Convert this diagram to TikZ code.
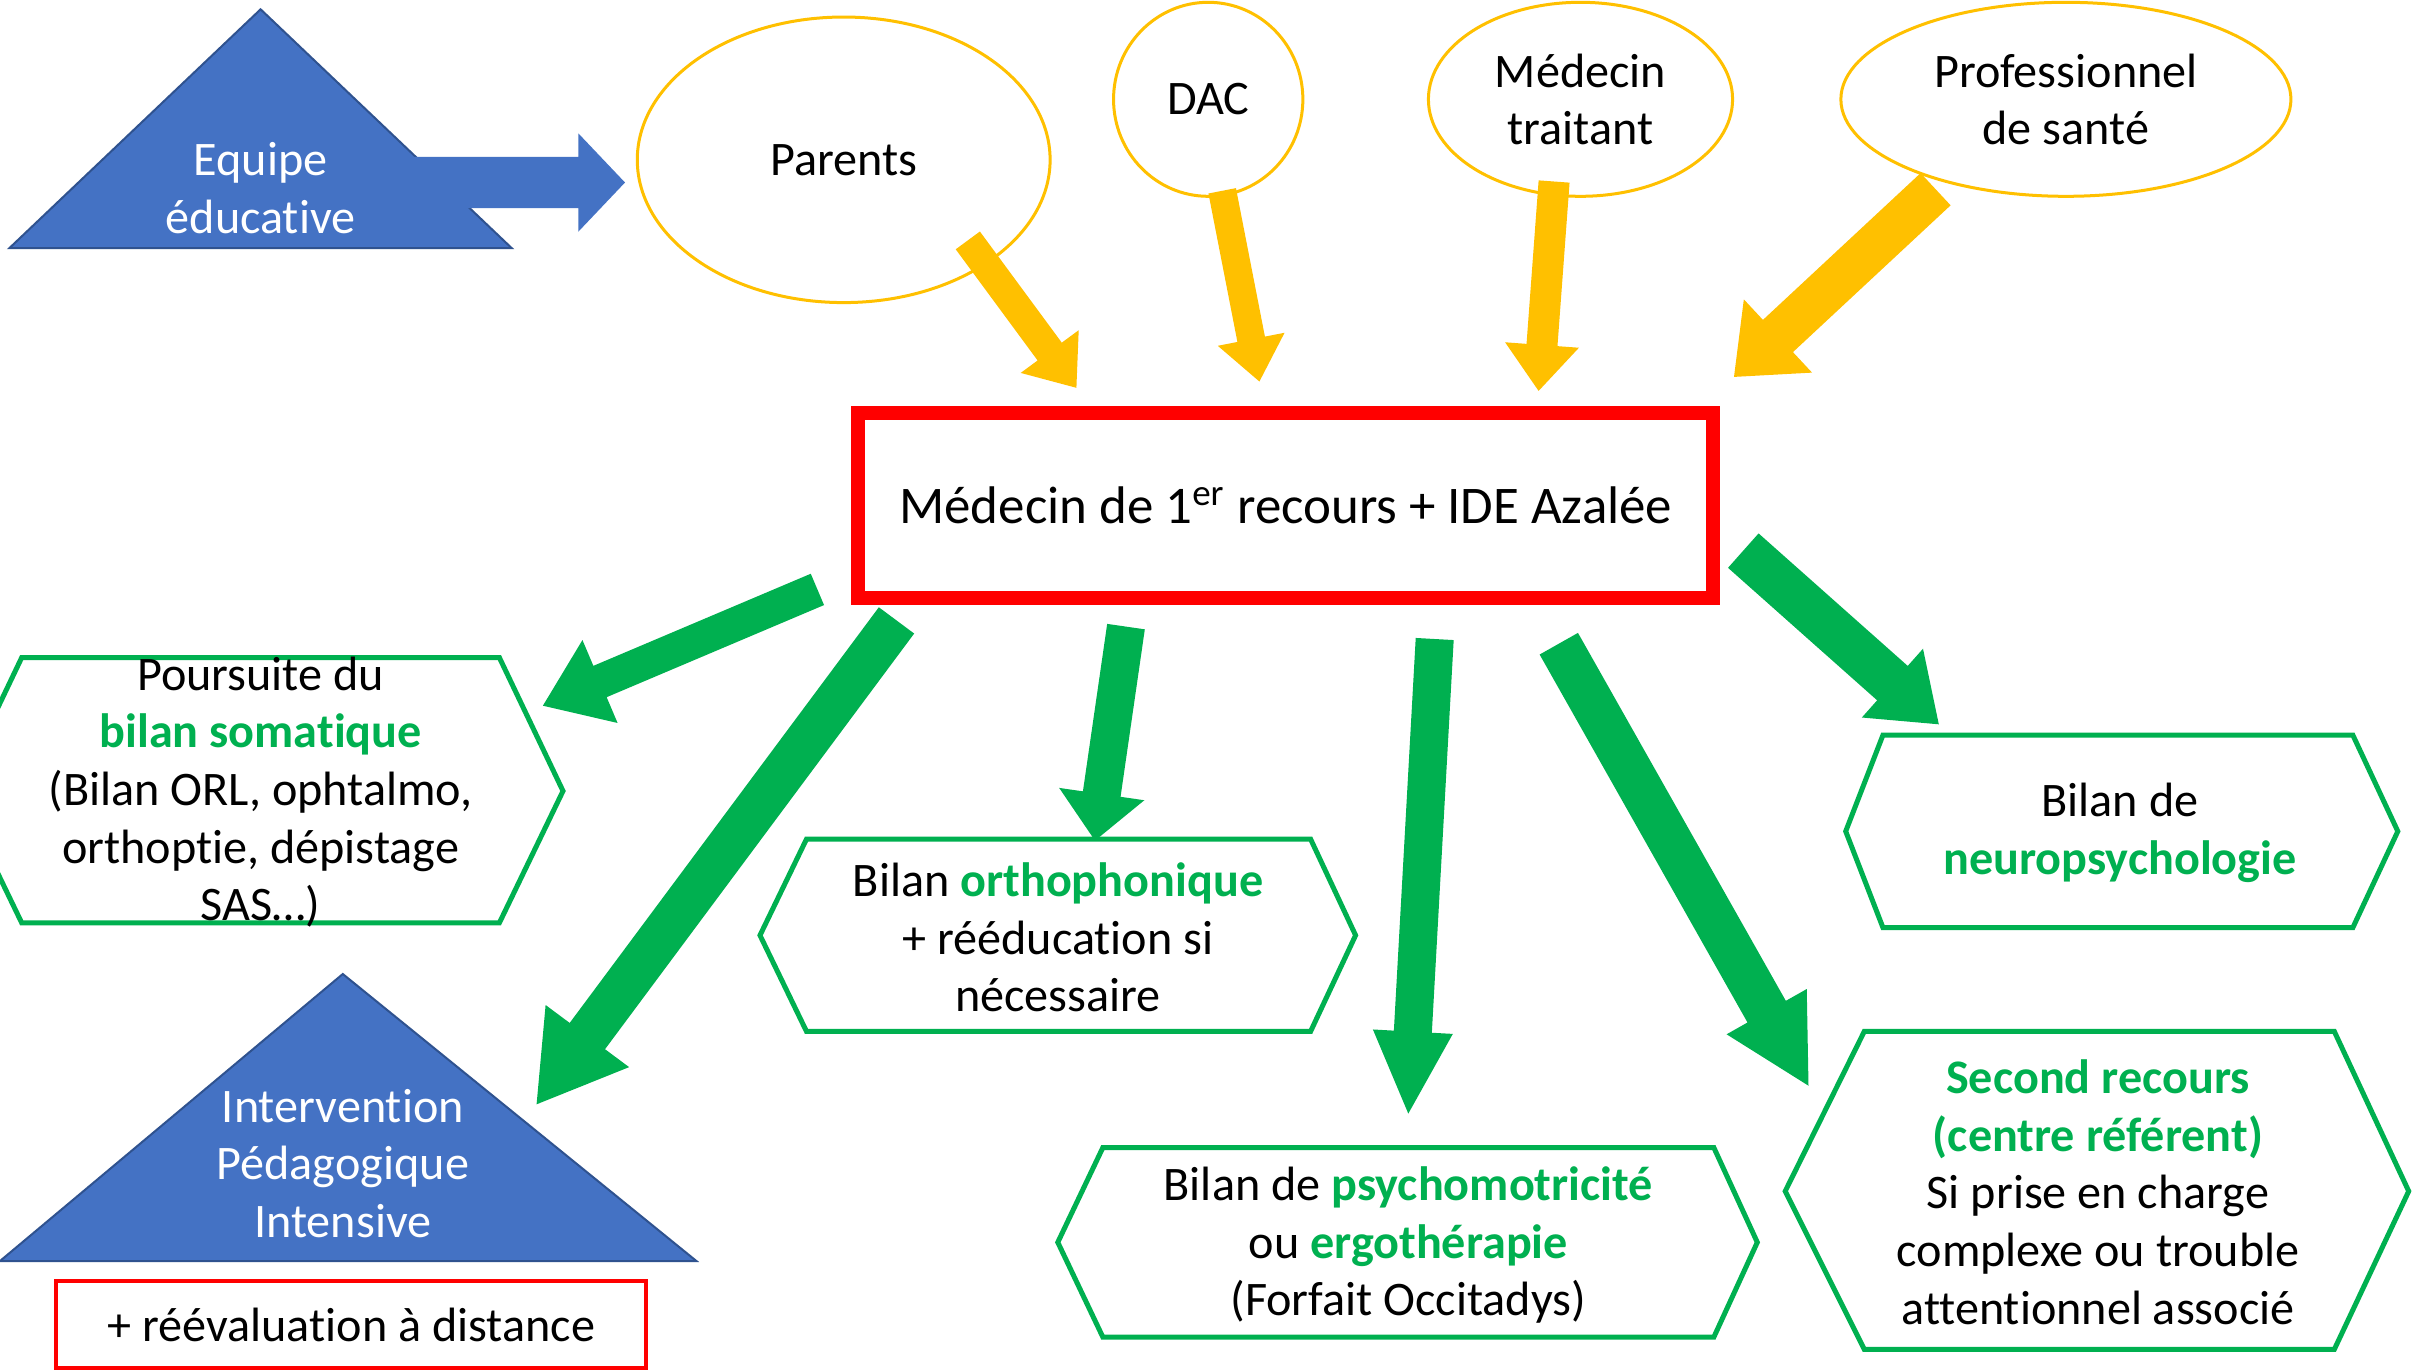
\documentclass[tikz,border=0pt]{standalone}
\usepackage{fontspec}
\setmainfont{Carlito}[Ligatures=NoCommon]
\usetikzlibrary{calc,shapes.geometric}
\definecolor{bluefill}{HTML}{4472C4}
\definecolor{blueline}{HTML}{2F528F}
\definecolor{yel}{HTML}{FFC000}
\definecolor{grn}{HTML}{00B050}
\definecolor{rd}{HTML}{FF0000}
\newcommand{\grb}[1]{\textbf{\textcolor{grn}{#1}}}
% #1 colour, #2 start, #3 tip, #4 shaft half width, #5 head half width, #6 head length
\newcommand{\blockarrow}[6]{%
  \path ($(#3)!#6!(#2)$) coordinate (hb);
  \fill[#1] ($(#2)!#4!90:(#3)$) -- ($(hb)!#4!90:(#3)$) -- ($(hb)!#5!90:(#3)$) -- (#3)
    -- ($(hb)!#5!-90:(#3)$) -- ($(hb)!#4!-90:(#3)$) -- ($(#2)!#4!-90:(#3)$) -- cycle;
}
\begin{document}
\begin{tikzpicture}[x=0.01cm,y=-0.01cm,
  lbl/.style={font=\fontsize{13.7}{16.4}\selectfont, align=center, inner sep=0pt},
  wlbl/.style={lbl, text=white},
  ell/.style={ellipse, draw=yel, line width=0.03cm, fill=white, inner sep=0pt, lbl},
  hexa/.style={draw=grn, line width=0.05cm, fill=white},
  tri/.style={fill=bluefill, draw=blueline, line width=0.02cm}]
\useasboundingbox (0,0) rectangle (2432,1372);
\fill[white] (0,0) rectangle (2432,1372);
\clip (0,0) rectangle (2432,1372);

% Equipe educative
\draw[tri] (260.6,9.3) -- (511.8,248.2) -- (9.3,248.2) -- cycle;
\coordinate (eqs) at (400,182.5);
\coordinate (eqt) at (625,182.5);
\blockarrow{bluefill}{eqs}{eqt}{0.255cm}{0.49cm}{0.465cm}
\node[wlbl] (equipe) at (260.6,188.4) {Equipe\\éducative};

% ellipses
\node[ell, minimum width=4.126cm, minimum height=2.854cm] (parents) at (843.7,159.8) {Parents};
\node[ell, minimum width=1.892cm, minimum height=1.939cm] (dac) at (1208.2,99.3) {DAC};
\node[ell, minimum width=3.04cm, minimum height=1.939cm] (mt) at (1580.5,99.3) {Médecin\\traitant};
\node[ell, minimum width=4.498cm, minimum height=1.939cm] (prof) at (2065.9,99.3) {Professionnel\\de santé};

% main box
\node[draw=rd, line width=0.14cm, minimum width=8.545cm, minimum height=1.845cm, inner sep=0pt,
  font=\fontsize{15.05}{18}\selectfont] (main) at (1285.75,505.65) {Médecin de 1\textsuperscript{er} recours + IDE Azalée};

% yellow arrows
\coordinate (ys1) at (967.8,240.4);  \coordinate (ye1) at (1076.4,387.8);
\coordinate (ys2) at (1222.2,190.8); \coordinate (ye2) at (1259.4,381.5);
\coordinate (ys3) at (1554.1,181.5); \coordinate (ye3) at (1538.6,390.9);
\coordinate (ys4) at (1935.6,189.2); \coordinate (ye4) at (1734,376.9);
\blockarrow{yel}{ys1}{ye1}{0.15cm}{0.36cm}{0.45cm}
\blockarrow{yel}{ys2}{ye2}{0.14cm}{0.34cm}{0.43cm}
\blockarrow{yel}{ys3}{ye3}{0.155cm}{0.37cm}{0.46cm}
\blockarrow{yel}{ys4}{ye4}{0.22cm}{0.50cm}{0.60cm}

% hexagons
\draw[hexa] (21.7,657.6) -- (499.4,657.6) -- (563,791) -- (499.4,922.8) -- (21.7,922.8) -- (-41.9,791) -- cycle;
\node[lbl] (poursuite) at (260.6,792) {Poursuite du\\\grb{bilan somatique}\\(Bilan ORL, ophtalmo,\\orthoptie, dépistage\\SAS…)};

\draw[hexa] (806.5,839.1) -- (1310.6,839.1) -- (1355.6,935.3) -- (1310.6,1031.4) -- (806.5,1031.4) -- (760,935.3) -- cycle;
\node[lbl] (ortho) at (1058,937.5) {Bilan \grb{orthophonique}\\+ rééducation si\\nécessaire};

\draw[hexa] (1102.8,1147.7) -- (1713.9,1147.7) -- (1757.3,1242.3) -- (1713.9,1337) -- (1102.8,1337) -- (1057.8,1242.3) -- cycle;
\node[lbl] (psycho) at (1408.3,1245) {Bilan de \grb{psychomotricité}\\ou \grb{ergothérapie}\\(Forfait Occitadys)};

\draw[hexa] (1882.9,735.2) -- (2352.9,735.2) -- (2397.8,831.3) -- (2352.9,927.5) -- (1882.9,927.5) -- (1845.7,831.3) -- cycle;
\node[lbl] (neuro) at (2120,833) {Bilan de\\\grb{neuropsychologie}};

\draw[hexa] (1864.3,1031.4) -- (2334.3,1031.4) -- (2408.7,1191.2) -- (2334.3,1349.4) -- (1864.3,1349.4) -- (1785.2,1191.2) -- cycle;
\node[lbl] (second) at (2098,1192) {\grb{Second recours}\\\grb{(centre référent)}\\Si prise en charge\\complexe ou trouble\\attentionnel associé};

% IPI triangle
\draw[tri] (342.8,974) -- (696.4,1261) -- (0,1261) -- cycle;
\node[wlbl] (ipi) at (342.8,1163.3) {Intervention\\Pédagogique\\Intensive};
\node[draw=rd, line width=0.04cm, minimum width=5.9cm, minimum height=0.86cm, inner sep=0pt, lbl] (reeval) at (351.3,1324.5) {+ réévaluation à distance};

% green arrows
\coordinate (gs1) at (817.4,589.4);  \coordinate (ge1) at (542.9,705.7);
\coordinate (gs2) at (896.5,620.4);  \coordinate (ge2) at (536.6,1104.3);
\coordinate (gs3) at (1126,626.6);   \coordinate (ge3) at (1095,840.6);
\coordinate (gs4) at (1434.7,639);   \coordinate (ge4) at (1408.3,1113.6);
\coordinate (gs5) at (1558.8,643.7); \coordinate (ge5) at (1808.5,1085.7);
\coordinate (gs6) at (1743.3,550.6); \coordinate (ge6) at (1938.8,724.3);
\blockarrow{grn}{gs1}{ge1}{0.17cm}{0.45cm}{0.62cm}
\blockarrow{grn}{gs2}{ge2}{0.22cm}{0.52cm}{0.85cm}
\blockarrow{grn}{gs3}{ge3}{0.19cm}{0.43cm}{0.47cm}
\blockarrow{grn}{gs4}{ge4}{0.19cm}{0.40cm}{0.82cm}
\blockarrow{grn}{gs5}{ge5}{0.22cm}{0.46cm}{0.85cm}
\blockarrow{grn}{gs6}{ge6}{0.23cm}{0.46cm}{0.62cm}
\end{tikzpicture}
\end{document}
